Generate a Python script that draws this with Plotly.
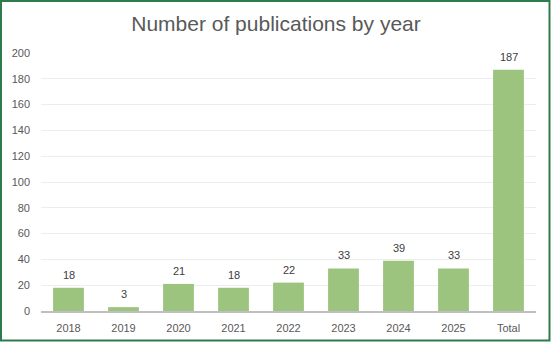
import plotly.graph_objects as go

categories = ["2018", "2019", "2020", "2021", "2022", "2023", "2024", "2025", "Total"]
publications = [18, 3, 21, 18, 22, 33, 39, 33, 187]
y_ticks = [0, 20, 40, 60, 80, 100, 120, 140, 160, 180, 200]

W, H = 552, 343
L, R, T, B = 41, 16, 53, 32
pw, ph = W - L - R, H - T - B

def px_to_paper_x(px):
    return (px - L) / pw

def px_to_paper_y(py):
    return (H - B - py) / ph

fig = go.Figure(
    go.Bar(
        x=categories,
        y=publications,
        marker=dict(color="#9CC47E", line=dict(width=0)),
        hoverinfo="x+y",
    )
)

# value labels sitting a few pixels above each bar (category index positions,
# since numeric-looking strings would be read as indices on a category axis)
value_labels = [
    dict(
        x=i,
        y=v,
        xref="x",
        yref="y",
        text=str(v),
        showarrow=False,
        yanchor="bottom",
        yshift=5,
        font=dict(family="Liberation Sans", size=11, color="#404040"),
    )
    for i, v in enumerate(publications)
]

fig.update_layout(
    width=W,
    height=H,
    margin=dict(l=L, r=R, t=T, b=B),
    paper_bgcolor="white",
    plot_bgcolor="white",
    bargap=0.44,
    showlegend=False,
    title=dict(
        text="Number of publications by year",
        x=0.5,
        xanchor="center",
        y=1 - 24 / H,
        yanchor="middle",
        font=dict(family="Liberation Sans", size=21, color="#595959"),
    ),
    xaxis=dict(
        type="category",
        categoryorder="array",
        categoryarray=categories,
        range=[-0.5, len(categories) - 0.5],
        automargin=False,
        showgrid=False,
        showline=True,
        linecolor="#BFBFBF",
        linewidth=2,
        ticks="",
        ticklabelstandoff=6,
        tickfont=dict(family="Liberation Sans", size=11, color="#595959"),
    ),
    yaxis=dict(
        range=[0, 200],
        tickvals=y_ticks,
        automargin=False,
        showgrid=True,
        gridcolor="#EDEDED",
        gridwidth=1,
        zeroline=False,
        showline=False,
        ticks="",
        ticklabelstandoff=10,
        tickfont=dict(family="Liberation Sans", size=11, color="#595959"),
    ),
    annotations=value_labels,
    shapes=[
        dict(
            type="rect",
            xref="paper",
            yref="paper",
            x0=px_to_paper_x(1),
            x1=px_to_paper_x(549.5),
            y0=px_to_paper_y(340.5),
            y1=px_to_paper_y(1),
            line=dict(color="#2F7B50", width=2),
            fillcolor="rgba(0,0,0,0)",
            layer="above",
        )
    ],
)

fig.write_html("out.html")
